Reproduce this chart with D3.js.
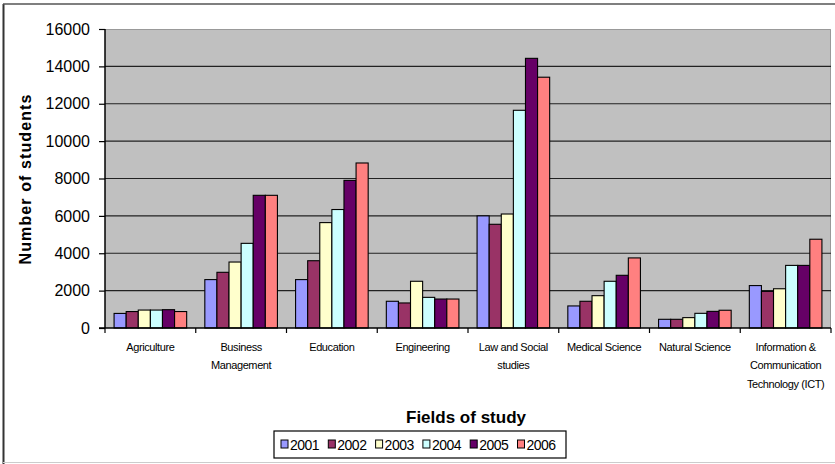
<!DOCTYPE html>
<html><head><meta charset="utf-8">
<script src="https://cdn.jsdelivr.net/npm/d3@7"></script>
<style>body{margin:0;background:#fff}svg{display:block}</style>
</head><body><svg id="c" width="835" height="464"></svg>
<script>
const categories = [["Agriculture"],["Business","Management"],["Education"],["Engineering"],["Law  and Social","studies"],["Medical Science"],["Natural Science"],["Information &","Communication","Technology (ICT)"]];
const years = ["2001","2002","2003","2004","2005","2006"];
const colors = ["#9999FF","#993366","#FFFFCC","#CCFFFF","#660066","#FF8080"];
const s2001 = [780, 2590, 2590, 1430, 6000, 1180, 465, 2270];
const s2002 = [880, 2980, 3600, 1340, 5550, 1430, 465, 1960];
const s2003 = [960, 3530, 5640, 2500, 6100, 1730, 555, 2100];
const s2004 = [960, 4530, 6340, 1640, 11650, 2500, 785, 3350];
const s2005 = [980, 7100, 7900, 1550, 14430, 2820, 890, 3350];
const s2006 = [880, 7100, 8830, 1550, 13420, 3750, 950, 4750];
const series = [s2001, s2002, s2003, s2004, s2005, s2006];
const yTicks = [0,2000,4000,6000,8000,10000,12000,14000,16000];

const svg = d3.select("#c");
const L = 105, R = 831, T = 29, B = 328;
// frame
svg.append("line").attr("x1",3.5).attr("x2",3.5).attr("y1",4).attr("y2",464).attr("stroke","#333").attr("stroke-width",2);
svg.append("line").attr("x1",3).attr("x2",835).attr("y1",4).attr("y2",4).attr("stroke","#555").attr("stroke-width",1.5);
svg.append("line").attr("x1",3).attr("x2",835).attr("y1",462.5).attr("y2",462.5).attr("stroke","#ccc").attr("stroke-width",1);

const x0 = d3.scaleBand().domain(d3.range(categories.length)).range([L,R]).paddingInner(0).paddingOuter(0);
const x1 = d3.scaleBand().domain(d3.range(years.length)).range([0,x0.bandwidth()]).paddingOuter(0.75).paddingInner(0);
const y = d3.scaleLinear().domain([0,16000]).range([B,T]);

svg.append("rect").attr("x",L).attr("y",T).attr("width",R-L).attr("height",B-T).attr("fill","#C0C0C0");
svg.append("path").attr("d",`M${L},${T+0.5}H${R-0.5}V${B}`).attr("fill","none").attr("stroke","#999").attr("stroke-width",1);

// gridlines
svg.append("g").selectAll("line").data(yTicks.filter(d=>d>0 && d<16000)).join("line")
  .attr("x1",L).attr("x2",R).attr("y1",d=>y(d)).attr("y2",d=>y(d))
  .attr("stroke","#222").attr("stroke-width",1.2);

// bars
const g = svg.append("g");
categories.forEach((c,i)=>{
  series.forEach((s,j)=>{
    g.append("rect")
      .attr("x", x0(i)+x1(j)).attr("width", x1.bandwidth())
      .attr("y", y(s[i])).attr("height", B - y(s[i]))
      .attr("fill", colors[j]).attr("stroke","#000").attr("stroke-width",1.1);
  });
});

// y axis
const ya = d3.axisLeft(y).tickValues(yTicks).tickSize(6).tickPadding(9).tickFormat(d3.format("d"));
const yg = svg.append("g").attr("transform",`translate(${L},0)`).call(ya);
yg.select(".domain").attr("stroke","#000").attr("stroke-width",1.5).attr("d",`M0,${T}V${B}`);
yg.selectAll(".tick line").attr("stroke","#000").attr("stroke-width",1.2);
yg.selectAll("text").attr("font-family","Liberation Sans, Arial, sans-serif").attr("font-size",16).attr("fill","#000");

// x axis
const xg = svg.append("g");
xg.append("line").attr("x1",L-6).attr("x2",R).attr("y1",B).attr("y2",B).attr("stroke","#000").attr("stroke-width",1.5);
xg.selectAll(".xt").data(d3.range(categories.length+1)).join("line")
  .attr("x1",i=>L+i*x0.bandwidth()).attr("x2",i=>L+i*x0.bandwidth())
  .attr("y1",B).attr("y2",B+5).attr("stroke","#000").attr("stroke-width",1.2);
categories.forEach((c,i)=>{
  const t = xg.append("text").attr("text-anchor","middle")
    .attr("font-family","Liberation Sans, Arial, sans-serif").attr("font-size",11).attr("letter-spacing","-0.4").attr("fill","#000");
  c.forEach((ln,k)=>{
    t.append("tspan").attr("x",x0(i)+x0.bandwidth()/2).attr("y",351+k*18.3).text(ln);
  });
});

// titles
svg.append("text").attr("x",466).attr("y",423).attr("text-anchor","middle")
  .attr("font-family","Liberation Sans, Arial, sans-serif").attr("font-weight","bold").attr("font-size",17).text("Fields of study");
svg.append("text").attr("transform","translate(31,179) rotate(-90)").attr("text-anchor","middle")
  .attr("font-family","Liberation Sans, Arial, sans-serif").attr("font-weight","bold").attr("font-size",16).attr("letter-spacing","1.1").text("Number of students");

// legend
const lg = svg.append("g");
lg.append("rect").attr("x",274).attr("y",431).attr("width",292).attr("height",27).attr("fill","#fff").attr("stroke","#000").attr("stroke-width",1.2);
years.forEach((yr,j)=>{
  const lx = 281 + j*47.3;
  lg.append("rect").attr("x",lx).attr("y",440).attr("width",7).attr("height",8).attr("fill",colors[j]).attr("stroke","#000").attr("stroke-width",1);
  lg.append("text").attr("x",lx+9).attr("y",449.5).attr("font-family","Liberation Sans, Arial, sans-serif").attr("font-size",14).attr("letter-spacing","-0.5").text(yr);
});
</script></body></html>
